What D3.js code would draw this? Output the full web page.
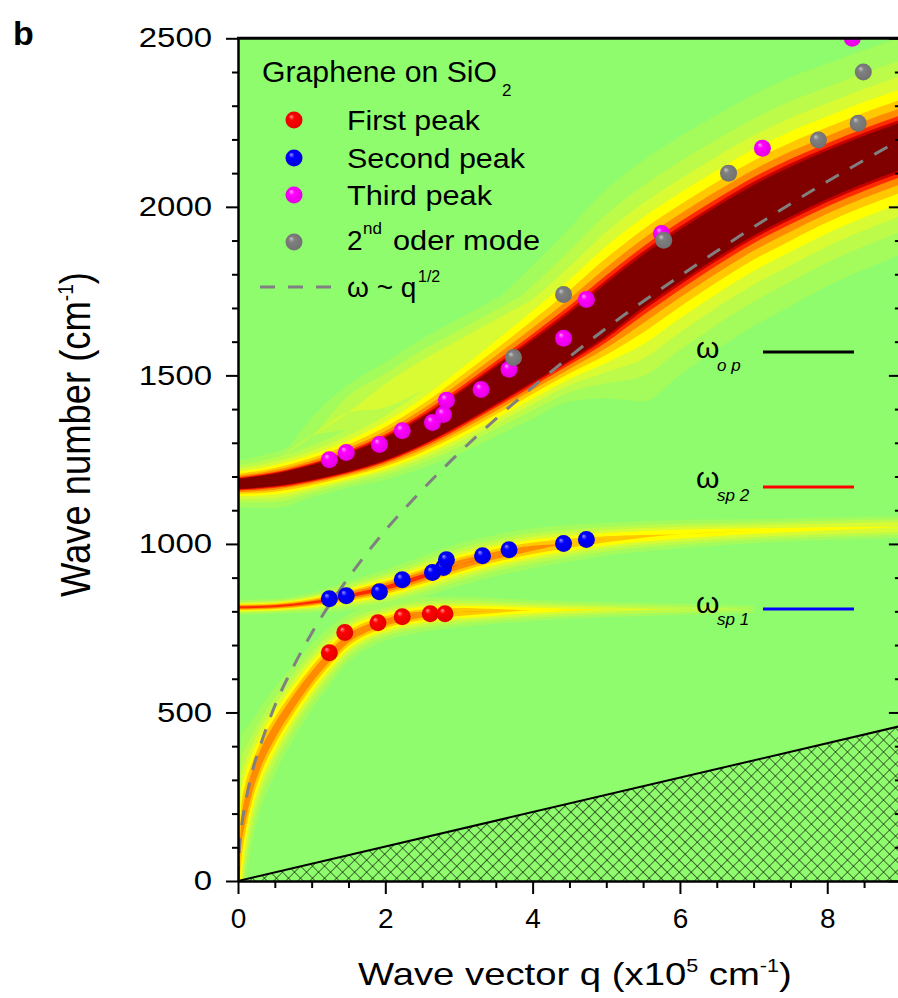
<!DOCTYPE html>
<html><head><meta charset="utf-8">
<script src="https://cdn.jsdelivr.net/npm/d3@7"></script>
<style>
body{margin:0;background:#fff}
svg{display:block}
text{font-family:"Liberation Sans",Arial,sans-serif;fill:#000}
</style>
</head><body>
<svg id="c" width="898" height="998"></svg>
<script>
// ---------------- data ----------------
const xTicks = [0, 2, 4, 6, 8];
const yTicks = [0, 500, 1000, 1500, 2000, 2500];

// measured peaks (q in 1e5 cm^-1, omega in cm^-1)
const firstPeakQ  = [1.24, 1.45, 1.90, 2.23, 2.61, 2.81];
const firstPeakW  = [677, 737, 766, 784, 793, 793];
const secondPeakQ = [1.24, 1.47, 1.92, 2.23, 2.64, 2.79, 2.83, 3.32, 3.68, 4.42, 4.73];
const secondPeakW = [837, 846, 858, 894, 915, 930, 953, 965, 983, 1001, 1013];
const thirdPeakQ  = [1.24, 1.47, 1.92, 2.23, 2.64, 2.79, 2.83, 3.30, 3.68, 4.42, 4.73, 5.75, 7.12, 8.34];
const thirdPeakW  = [1250, 1271, 1295, 1336, 1360, 1384, 1426, 1458, 1518, 1610, 1725, 1921, 2174, 2500];
const secondOrderQ = [3.74, 4.42, 5.78, 6.66, 7.88, 8.42, 8.49];
const secondOrderW = [1553, 1740, 1901, 2100, 2198, 2248, 2400];

// omega ~ q^1/2 dashed curve
const sqrtQ = [0, 0.02, 0.05, 0.1, 0.2, 0.3, 0.5, 0.75, 1, 1.5, 2, 2.5, 3, 4, 5, 6, 7, 8, 9];
const sqrtW = [0, 105, 165, 230, 330, 400, 520, 635, 735, 900, 1040, 1160, 1270, 1465, 1640, 1795, 1940, 2075, 2200];

// hatched region boundary
const hatchQ = [0, 9];
const hatchW = [0, 460];

// loss-function ridges (intensity map): ridge position, peak level, widths
const upperQ  = [0, 0.5, 1, 1.5, 2, 2.5, 3, 3.5, 4, 4.5, 5, 5.5, 6, 6.5, 7, 7.5, 8, 8.5, 9];
const upperW  = [1178, 1190, 1212, 1242, 1282, 1335, 1400, 1470, 1542, 1615, 1695, 1780, 1855, 1925, 1990, 2045, 2095, 2140, 2180];
const upperA  = [12, 15, 20, 20, 20, 20, 20, 20, 20, 20, 20, 20, 20, 20, 20, 20, 20, 20, 20];
const upperGu = [4.5, 4.8, 5.0, 6.2, 7.6, 9.2, 11.0, 12.6, 14.2, 16.1, 17.9, 17.9, 17.7, 17.4, 17.2, 17.0, 16.5, 16.3, 16.1];
const upperGd = [4.5, 4.8, 6.8, 10.1, 12.4, 15.0, 18.0, 20.6, 23.2, 26.2, 24.0, 17.9, 17.7, 17.4, 17.2, 17.0, 16.5, 16.3, 16.1];
const upperPd = [2, 2, 2.5, 3, 3, 3, 3, 3, 3, 3, 2.5, 2, 2, 2, 2, 2, 2, 2, 2];

const shoulderQ = [0.6, 1, 1.5, 2, 2.5, 3, 3.5, 4, 4.5, 5, 6, 7, 8, 9];
const shoulderW = [1260, 1320, 1390, 1440, 1500, 1560, 1620, 1680, 1750, 1820, 1950, 2070, 2170, 2260];
const shoulderA = [0.0, 0.08, 0.12, 0.15, 0.17, 0.17, 0.17, 0.17, 0.16, 0.15, 0.14, 0.13, 0.12, 0.12];
const shoulderG = [70, 70, 70, 70, 70, 70, 70, 70, 70, 70, 70, 70, 70, 70];

const middleQ = [0, 0.5, 1, 1.5, 2, 2.5, 3, 3.5, 4, 4.5, 5, 6, 7, 8, 9];
const middleW = [812, 815, 826, 846, 870, 903, 938, 966, 987, 1002, 1014, 1029, 1038, 1045, 1050];
const middleA = [0.75, 0.75, 0.72, 0.7, 0.7, 0.68, 0.6, 0.52, 0.45, 0.38, 0.32, 0.25, 0.21, 0.19, 0.18];
const middleG = [6, 6, 8, 12, 15, 17, 19, 20, 21, 21, 21, 21, 20, 20, 20];

const lowerQ = [0, 0.05, 0.1, 0.2, 0.3, 0.5, 0.75, 1, 1.25, 1.5, 1.75, 2, 2.5, 3, 3.5, 4, 5, 6, 7];
const lowerW = [0, 150, 215, 300, 360, 445, 530, 605, 668, 720, 750, 768, 790, 798, 801, 803, 805, 806, 806];
const lowerA = [0.35, 0.45, 0.5, 0.52, 0.52, 0.52, 0.52, 0.52, 0.52, 0.52, 0.52, 0.52, 0.5, 0.4, 0.3, 0.22, 0.14, 0.1, 0.07];
const lowerG = [100, 100, 78, 58, 50, 42, 36, 32, 28, 23, 20, 18, 17, 17, 17, 17, 17, 17, 17];

// colour levels of the map
const levelT = [0.05, 0.08, 0.12, 0.18, 0.27, 0.4, 0.6, 0.8, 1.0];
const levelC = ['#a4fb5c', '#bcfb4a', '#d8fb34', '#ffff00', '#ffc800', '#ff8c00', '#ff2a00', '#c80000', '#800000'];
const bgColor = '#8ffc6e';

// ---------------- drawing ----------------
const svg = d3.select('#c');
const x = d3.scaleLinear().domain([0, 9]).range([238, 900.9]);
const y = d3.scaleLinear().domain([0, 2500]).range([881, 38.3]);
const X0 = x(0), X1 = x(9), Y0 = y(0), Y1 = y(2500);

const defs = svg.append('defs');
defs.append('clipPath').attr('id', 'plotclip').append('rect')
  .attr('x', X0).attr('y', Y1).attr('width', X1 - X0).attr('height', Y0 - Y1);

const pat = defs.append('pattern').attr('id', 'hatch').attr('patternUnits', 'userSpaceOnUse')
  .attr('width', 8.5).attr('height', 8.5).attr('patternTransform', 'rotate(45)');
pat.append('rect').attr('width', 8.5).attr('height', 8.5).attr('fill', bgColor);
pat.append('line').attr('x1', 0).attr('y1', 0).attr('x2', 8.5).attr('y2', 0).attr('stroke', '#000').attr('stroke-width', 1.1);
pat.append('line').attr('x1', 0).attr('y1', 0).attr('x2', 0).attr('y2', 8.5).attr('stroke', '#000').attr('stroke-width', 1.1);

function ballGrad(id, light, base, dark) {
  const g = defs.append('radialGradient').attr('id', id)
    .attr('cx', '50%').attr('cy', '50%').attr('r', '55%').attr('fx', '32%').attr('fy', '28%');
  g.append('stop').attr('offset', '0%').attr('stop-color', light);
  g.append('stop').attr('offset', '30%').attr('stop-color', base);
  g.append('stop').attr('offset', '100%').attr('stop-color', dark);
}
ballGrad('gRed', '#ff9a9a', '#ff0000', '#e00000');
ballGrad('gBlue', '#9a9aff', '#0000ff', '#0000d8');
ballGrad('gMag', '#ffa0ff', '#ff00ff', '#e000e0');
ballGrad('gGray', '#c8c8c8', '#808080', '#707070');

const plot = svg.append('g').attr('clip-path', 'url(#plotclip)');
plot.append('rect').attr('x', X0).attr('y', Y1).attr('width', X1 - X0).attr('height', Y0 - Y1).attr('fill', bgColor);

function dist(A, g, p, t) { return A > t ? g * Math.pow(A / t - 1, 1 / p) : 0; }
const pick = (v, i) => Array.isArray(v) ? v[i] : v;
const branches = [
  {q: shoulderQ, w: shoulderW, A: shoulderA, gu: shoulderG, gd: shoulderG, pu: 2, pd: 2},
  {q: lowerQ, w: lowerW, A: lowerA, gu: lowerG, gd: lowerG, pu: 2, pd: 2},
  {q: middleQ, w: middleW, A: middleA, gu: middleG, gd: middleG, pu: 2, pd: 2},
  {q: upperQ, w: upperW, A: upperA, gu: upperGu, gd: upperGd, pu: 2, pd: upperPd}
];
const band = d3.area().x(d => x(d.q)).y0(d => y(d.lo)).y1(d => y(d.hi)).curve(d3.curveMonotoneX);
levelT.forEach((t, k) => {
  branches.forEach(b => {
    const pts = b.q.map((qq, i) => {
      const A = b.A[i];
      return {
        q: qq,
        lo: b.w[i] - dist(A, pick(b.gd, i), pick(b.pd, i), t),
        hi: b.w[i] + dist(A, pick(b.gu, i), pick(b.pu, i), t)
      };
    });
    if (pts.every(p => p.hi - p.lo <= 0)) return;
    plot.append('path').datum(pts).attr('d', band).attr('fill', levelC[k]);
  });
});

// hatched region
const hatchPts = hatchQ.map((q, i) => ({q, w: hatchW[i]}));
plot.append('path').datum(hatchPts)
  .attr('d', d3.area().x(d => x(d.q)).y0(y(0)).y1(d => y(d.w)))
  .attr('fill', 'url(#hatch)');
plot.append('path').datum(hatchPts)
  .attr('d', d3.line().x(d => x(d.q)).y(d => y(d.w)))
  .attr('fill', 'none').attr('stroke', '#000').attr('stroke-width', 2);

// dashed omega ~ q^1/2
plot.append('path').datum(sqrtQ.map((q, i) => ({q, w: sqrtW[i]})))
  .attr('d', d3.line().x(d => x(d.q)).y(d => y(d.w)).curve(d3.curveMonotoneX))
  .attr('fill', 'none').attr('stroke', '#808080').attr('stroke-width', 3)
  .attr('stroke-dasharray', '15,13');

// markers
function balls(qs, ws, grad) {
  plot.append('g').selectAll('circle').data(qs.map((q, i) => ({q, w: ws[i]})))
    .join('circle').attr('cx', d => x(d.q)).attr('cy', d => y(d.w)).attr('r', 8.5)
    .attr('fill', `url(#${grad})`);
}
balls(firstPeakQ, firstPeakW, 'gRed');
balls(secondPeakQ, secondPeakW, 'gBlue');
balls(thirdPeakQ, thirdPeakW, 'gMag');
balls(secondOrderQ, secondOrderW, 'gGray');

// ---------------- axes ----------------
const minorY = d3.range(0, 2501, 100).filter(v => v % 500 !== 0);
const minorX = d3.range(0, 9.01, 0.5).filter(v => v % 2 !== 0);

function styleAxis(g, w) {
  g.select('.domain').attr('stroke-width', w);
  g.selectAll('.tick line').attr('stroke-width', 2);
}
// left
const gl = svg.append('g').attr('transform', `translate(${X0},0)`)
  .call(d3.axisLeft(y).tickValues(yTicks).tickFormat(d3.format('d')).tickSize(12).tickSizeOuter(0).tickPadding(14));
styleAxis(gl, 2.5);
gl.selectAll('.tick text').attr('font-size', 27).attr('font-family', '"Liberation Sans",Arial,sans-serif')
  .attr('fill', '#000')
  .each(function (d) { const s = String(d); d3.select(this).attr('textLength', s.length * 18.3).attr('lengthAdjust', 'spacingAndGlyphs'); });
svg.append('g').attr('transform', `translate(${X0},0)`)
  .call(d3.axisLeft(y).tickValues(minorY).tickSize(6).tickFormat('').tickSizeOuter(0))
  .call(g => { g.select('.domain').remove(); g.selectAll('line').attr('stroke-width', 2); });
// bottom
const gb = svg.append('g').attr('transform', `translate(0,${Y0})`)
  .call(d3.axisBottom(x).tickValues(xTicks).tickFormat(d3.format('d')).tickSize(13).tickSizeOuter(0).tickPadding(14));
styleAxis(gb, 2.5);
gb.selectAll('.tick text').attr('font-size', 28).attr('font-family', '"Liberation Sans",Arial,sans-serif').attr('fill', '#000');
svg.append('g').attr('transform', `translate(0,${Y0})`)
  .call(d3.axisBottom(x).tickValues(minorX).tickSize(7).tickFormat('').tickSizeOuter(0))
  .call(g => { g.select('.domain').remove(); g.selectAll('line').attr('stroke-width', 2); });
// right (inward ticks)
const gr = svg.append('g').attr('transform', `translate(${X1},0)`)
  .call(d3.axisLeft(y).tickValues(yTicks).tickSize(12).tickFormat('').tickSizeOuter(0));
styleAxis(gr, 2.5);
svg.append('g').attr('transform', `translate(${X1},0)`)
  .call(d3.axisLeft(y).tickValues(minorY).tickSize(6).tickFormat('').tickSizeOuter(0))
  .call(g => { g.select('.domain').remove(); g.selectAll('line').attr('stroke-width', 2); });
// top border
svg.append('line').attr('x1', X0 - 1).attr('x2', X1).attr('y1', Y1).attr('y2', Y1)
  .attr('stroke', '#000').attr('stroke-width', 3);

// ---------------- titles ----------------
svg.append('text').attr('x', 13).attr('y', 45).attr('font-size', 34).attr('font-weight', 'bold').text('b');

const xt = svg.append('text').attr('x', 358).attr('y', 985).attr('font-size', 32);
xt.append('tspan').text('Wave vector q (x10');
xt.append('tspan').attr('font-size', 18).attr('dy', -13).text('5');
xt.append('tspan').attr('dy', 13).text(' cm');
xt.append('tspan').attr('font-size', 18).attr('dy', -13).text('-1');
xt.append('tspan').attr('dy', 13).text(')');
{ const w = xt.node().getBBox().width; const s = 434 / w;
  xt.attr('transform', `translate(358,0) scale(${s},1) translate(-358,0)`); }

const yt = svg.append('text').attr('x', 0).attr('y', 0).attr('font-size', 42);
yt.append('tspan').text('Wave number (cm');
yt.append('tspan').attr('font-size', 22).attr('dy', -17).text('-1');
yt.append('tspan').attr('dy', 17).text(')');
{ const w = yt.node().getBBox().width; const s = 325 / w;
  yt.attr('transform', `translate(90,597) rotate(-90) scale(${s},1)`); }

// ---------------- legend ----------------
svg.append('text').attr('x', 262).attr('y', 82).attr('font-size', 29)
  .attr('textLength', 235).attr('lengthAdjust', 'spacingAndGlyphs').text('Graphene on SiO');
svg.append('text').attr('x', 502).attr('y', 96).attr('font-size', 17).text('2');

const legItems = [
  {grad: 'gRed', cy: 120, label: 'First peak', ty: 130, len: 133},
  {grad: 'gBlue', cy: 158, label: 'Second peak', ty: 168, len: 178},
  {grad: 'gMag', cy: 195, label: 'Third peak', ty: 205, len: 145}
];
legItems.forEach(d => {
  svg.append('circle').attr('cx', 294).attr('cy', d.cy).attr('r', 8.5).attr('fill', `url(#${d.grad})`);
  svg.append('text').attr('x', 347).attr('y', d.ty).attr('font-size', 28)
    .attr('textLength', d.len).attr('lengthAdjust', 'spacingAndGlyphs').text(d.label);
});
svg.append('circle').attr('cx', 294).attr('cy', 242).attr('r', 8.5).attr('fill', 'url(#gGray)');
svg.append('text').attr('x', 347).attr('y', 250).attr('font-size', 28).text('2');
svg.append('text').attr('x', 363).attr('y', 234).attr('font-size', 17).text('nd');
svg.append('text').attr('x', 393).attr('y', 250).attr('font-size', 28)
  .attr('textLength', 147).attr('lengthAdjust', 'spacingAndGlyphs').text('oder mode');
svg.append('line').attr('x1', 260).attr('x2', 332).attr('y1', 287).attr('y2', 287)
  .attr('stroke', '#808080').attr('stroke-width', 3).attr('stroke-dasharray', '15,13');
svg.append('text').attr('x', 347).attr('y', 297).attr('font-size', 28).text('ω ~ q');
svg.append('text').attr('x', 418).attr('y', 282).attr('font-size', 16).text('1/2');

// omega labels on the right
const modeLabels = [
  {sub: 'o p', wy: 358, sy: 371, ly: 352, color: '#000000'},
  {sub: 'sp 2', wy: 488, sy: 501, ly: 487, color: '#ff0000'},
  {sub: 'sp 1', wy: 613, sy: 625, ly: 609, color: '#0000ff'}
];
modeLabels.forEach(d => {
  svg.append('text').attr('x', 696).attr('y', d.wy).attr('font-size', 30).text('ω');
  svg.append('text').attr('x', 717).attr('y', d.sy).attr('font-size', 17).attr('font-style', 'italic').text(d.sub);
  svg.append('line').attr('x1', 763).attr('x2', 854).attr('y1', d.ly).attr('y2', d.ly)
    .attr('stroke', d.color).attr('stroke-width', 3);
});
</script>
</body></html>
